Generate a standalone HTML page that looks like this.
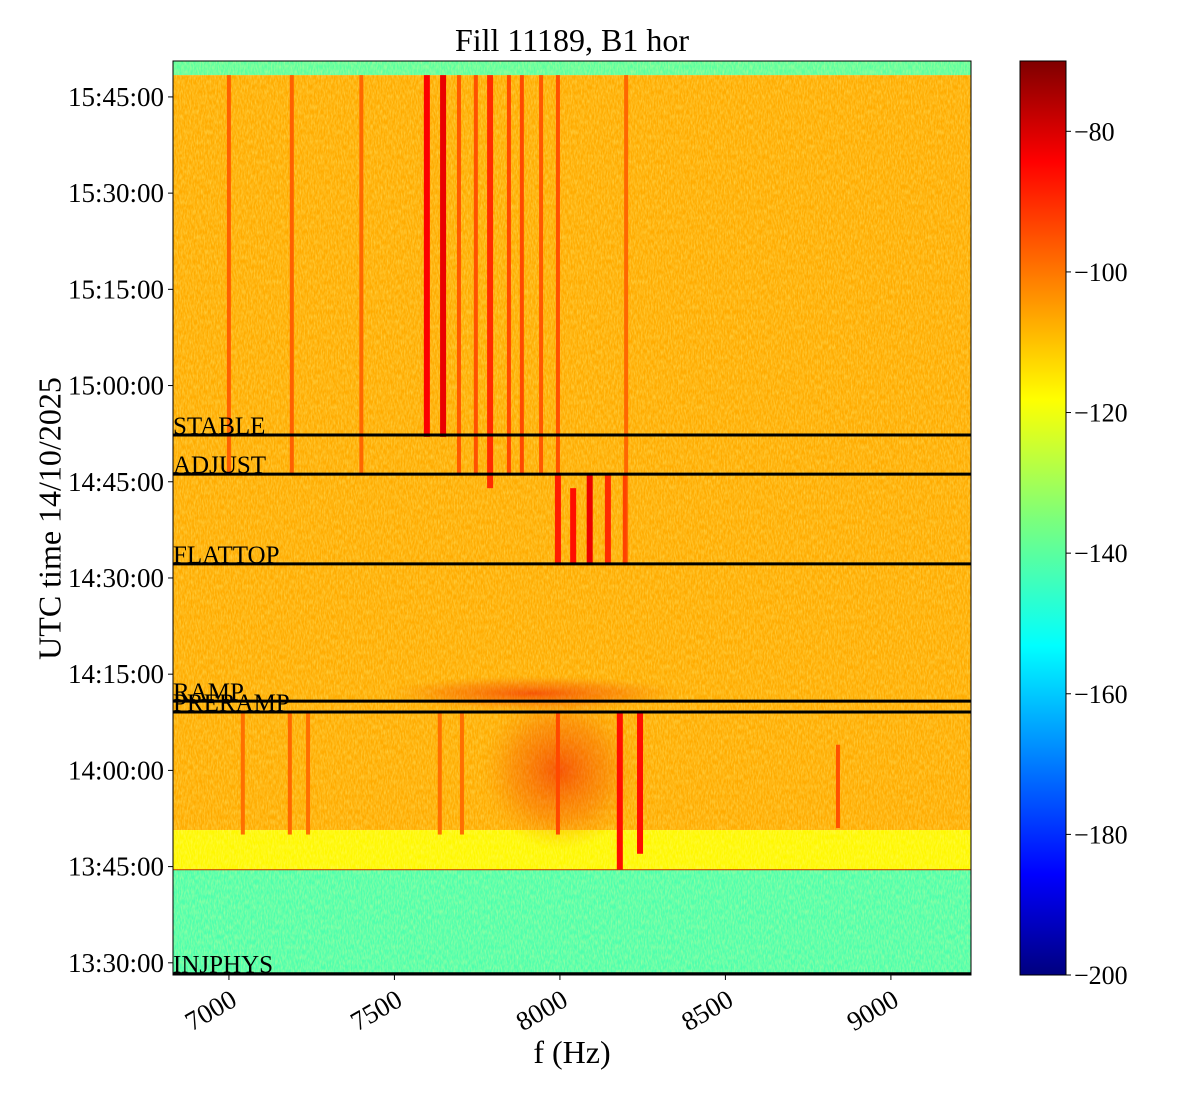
<!DOCTYPE html>
<html><head><meta charset="utf-8">
<style>
body{margin:0;background:#fff;}
svg text{font-family:"Liberation Serif",serif;fill:#000;}
</style></head>
<body>
<svg id="chart" width="1200" height="1100" xmlns="http://www.w3.org/2000/svg">
<defs>
<linearGradient id="jet" x1="0" y1="1" x2="0" y2="0">
<stop offset="0" stop-color="#00007f"/><stop offset="0.11" stop-color="#0000ff"/>
<stop offset="0.36" stop-color="#00ffff"/><stop offset="0.5" stop-color="#7dff7a"/>
<stop offset="0.63" stop-color="#ffff00"/><stop offset="0.89" stop-color="#ff0000"/>
<stop offset="1" stop-color="#7f0000"/></linearGradient>
<radialGradient id="blob"><stop offset="0" stop-color="#f01a00" stop-opacity="0.6"/><stop offset="0.6" stop-color="#f34a00" stop-opacity="0.3"/><stop offset="1" stop-color="#f58000" stop-opacity="0"/></radialGradient>
<filter id="noise" x="0" y="0" width="100%" height="100%"><feTurbulence type="fractalNoise" baseFrequency="0.7 0.2" numOctaves="2" seed="3"/><feColorMatrix type="matrix" values="0 0 0 0 1  0 0 0 0 1  0 0 0 0 0.3  0 0 0 -1.6 1.1"/></filter>
<clipPath id="clip"><rect x="173" y="61" width="798" height="914"/></clipPath>
</defs>
<g id="plot" clip-path="url(#clip)"></g>
<g id="axes"></g>
</svg>
<script>
const freqTicks=[7000,7500,8000,8500,9000];
const timeTicks=[30,45,60,75,90,105,120,135,150,165];
const timeTickLabels=["13:30:00","13:45:00","14:00:00","14:15:00","14:30:00","14:45:00","15:00:00","15:15:00","15:30:00","15:45:00"];
const cbarTicks=[-80,-100,-120,-140,-160,-180,-200];
const eventNames=["STABLE","ADJUST","FLATTOP","RAMP","PRERAMP","INJPHYS"];
const eventTimes=[112.3,106.2,92.2,70.8,69.1,28.3];
const bandStart=[168.4,50.7,44.5,28.1];
const bandEnd=[170.6,168.4,50.7,44.5];
const bandLevel=[-140,-107,-117,-142];
const lineFreq=[7000,7190,7400,7598,7647,7695,7746,7789,7846,7885,7943,7994,8200,7994,8040,8090,8145,8196,7042,7184,7239,7637,7704,7994,8181,8242,8840];
const lineT0=[106,106,106,112,112,106,106,104,106,106,106,92,92,92,92,92,92,92,50,50,50,50,50,50,44.5,47,51];
const lineT1=[168.4,168.4,168.4,168.4,168.4,168.4,168.4,168.4,168.4,168.4,168.4,168.4,168.4,106,104,106,106,106,69,69,69,69,69,69,69,69,64];
const lineLevel=[-97,-97,-98,-84,-82,-96,-95,-90,-94,-94,-96,-95,-98,-88,-86,-82,-90,-93,-99,-98,-99,-99,-99,-94,-86,-86,-95];

const NS="http://www.w3.org/2000/svg";
const X0=173,X1=971,Y0=61,Y1=975;
const F0=6831,F1=9242,T0=28.1,T1=170.6,CMIN=-200,CMAX=-70;
const xs=f=>X0+(f-F0)/(F1-F0)*(X1-X0);
const ys=t=>Y1-(t-T0)/(T1-T0)*(Y1-Y0);
const cy=v=>Y1-(v-CMIN)/(CMAX-CMIN)*(Y1-Y0);
function jet(v){let s=(v-CMIN)/(CMAX-CMIN);
 const stops=[[0,0,0,127],[0.11,0,0,255],[0.36,0,255,255],[0.5,125,255,122],[0.63,255,255,0],[0.89,255,0,0],[1,127,0,0]];
 for(let i=1;i<stops.length;i++){if(s<=stops[i][0]){const a=stops[i-1],b=stops[i],k=(s-a[0])/(b[0]-a[0]);
 return `rgb(${Math.round(a[1]+k*(b[1]-a[1]))},${Math.round(a[2]+k*(b[2]-a[2]))},${Math.round(a[3]+k*(b[3]-a[3]))})`;}}
 return "rgb(127,0,0)";}
function mk(tag,attrs,parent){const e=document.createElementNS(NS,tag);for(const k in attrs)e.setAttribute(k,attrs[k]);parent.appendChild(e);return e;}
const plot=document.getElementById('plot'),axes=document.getElementById('axes');

for(let i=0;i<bandStart.length;i++){
 const r=mk('rect',{x:X0,y:ys(bandEnd[i]),width:X1-X0,height:ys(bandStart[i])-ys(bandEnd[i]),fill:jet(bandLevel[i])},plot);
 
 
}
const nz=mk('rect',{x:X0,y:Y0,width:X1-X0,height:Y1-Y0,filter:'url(#noise)',opacity:0.45},plot);


const b1=mk('ellipse',{cx:xs(8000),cy:ys(60),rx:80,ry:80,fill:'url(#blob)'},plot);


const b2=mk('ellipse',{cx:xs(7920),cy:ys(72),rx:150,ry:18,fill:'url(#blob)'},plot);


for(let i=0;i<lineFreq.length;i++){
 const w=lineLevel[i]<-90?4:6;
 const r=mk('rect',{x:xs(lineFreq[i])-w/2,y:ys(lineT1[i]),width:w,height:ys(lineT0[i])-ys(lineT1[i]),fill:jet(lineLevel[i])},plot);
 
 
}
const sep=mk('line',{x1:X0,x2:X1,y1:ys(44.5),y2:ys(44.5),stroke:'#c03000','stroke-width':1},plot);


for(let i=0;i<eventNames.length;i++){
 const l=mk('line',{x1:X0,x2:X1,y1:ys(eventTimes[i]),y2:ys(eventTimes[i]),stroke:'#000','stroke-width':3},plot);
 
 
 const t=mk('text',{x:X0,y:ys(eventTimes[i])-1,'font-size':25},plot);t.textContent=eventNames[i];
 
 
}
const fr=mk('rect',{x:X0,y:Y0,width:X1-X0,height:Y1-Y0,fill:'none',stroke:'#000','stroke-width':1},axes);


freqTicks.forEach(f=>{const x=xs(f);
 const tk=mk('line',{x1:x,x2:x,y1:Y1,y2:Y1+5,stroke:'#000'},axes);
 
 
 const ax=x, ay=Y1+13;
 const t=mk('text',{x:ax,y:ay,'font-size':27,'text-anchor':'end',transform:`rotate(-30 ${ax} ${ay})`,'dominant-baseline':'hanging'},axes);t.textContent=f;
 
 });
timeTicks.forEach((tm,i)=>{const y=ys(tm);
 const tk=mk('line',{x1:X0-5,x2:X0,y1:y,y2:y,stroke:'#000'},axes);
 
 
 const t=mk('text',{x:X0-9,y:y+9,'font-size':27,'text-anchor':'end'},axes);t.textContent=timeTickLabels[i];
 
 });
const cb=mk('rect',{x:1020,y:Y0,width:46,height:Y1-Y0,fill:'url(#jet)',stroke:'#000','stroke-width':1},axes);


cbarTicks.forEach(v=>{const y=cy(v);
 const tk=mk('line',{x1:1066,x2:1071,y1:y,y2:y,stroke:'#000'},axes);
 
 
 const t=mk('text',{x:1074,y:y+9,'font-size':26},axes);t.textContent='\u2212'+Math.abs(v);
 
 });
</script>
<div style="position:absolute;left:0;top:0;width:1200px;height:1100px;pointer-events:none;font-family:'Liberation Serif',serif;">
<div style="position:absolute;left:372px;width:400px;top:22px;text-align:center;font-size:32px;">Fill 11189, B1 hor</div>
<div style="position:absolute;left:472px;width:200px;top:1034px;text-align:center;font-size:32px;">f (Hz)</div>
<div style="position:absolute;left:-120px;width:340px;top:500px;text-align:center;font-size:32px;transform:rotate(-90deg);white-space:nowrap;">UTC time 14/10/2025</div>
</div>
</body></html>
